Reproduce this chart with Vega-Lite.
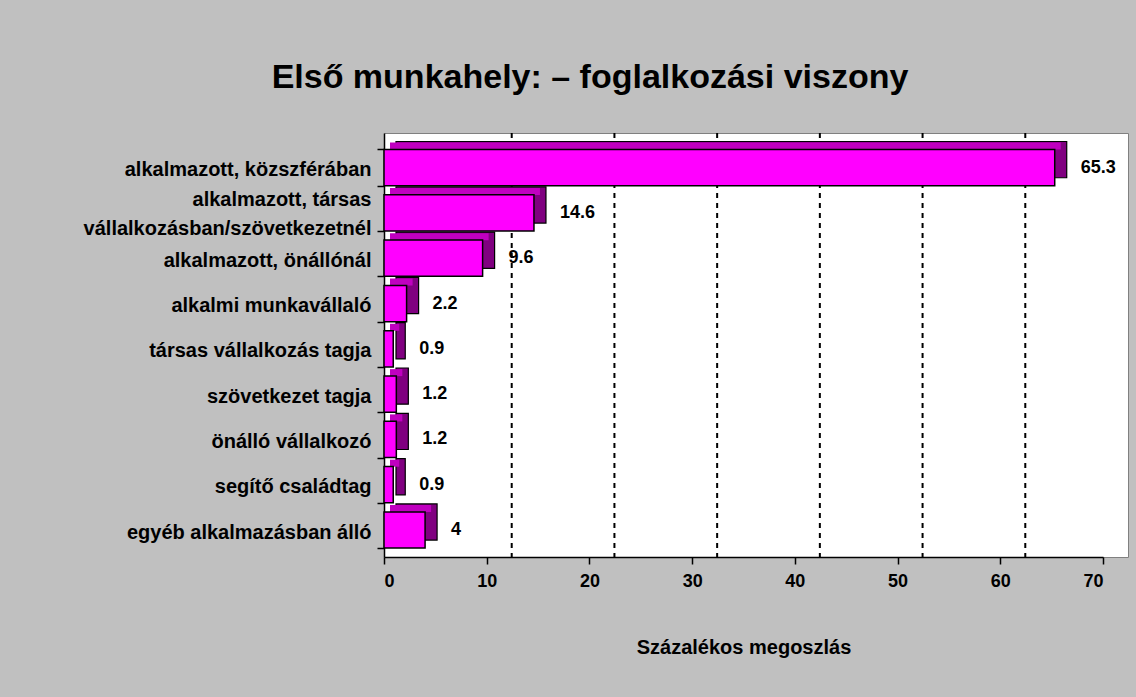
{
  "$schema": "https://vega.github.io/schema/vega-lite/v6.json",
  "autosize": {"type": "none"},
  "width": 744,
  "height": 424,
  "padding": {"left": 384, "top": 133, "right": 8, "bottom": 140},
  "background": "#C0C0C0",
  "title": {
    "text": "Első munkahely: – foglalkozási viszony",
    "font": "Liberation Sans",
    "fontSize": 34,
    "fontWeight": "bold",
    "color": "#000000",
    "anchor": "middle",
    "dx": -166,
    "offset": 28
  },
  "config": {
    "view": {"fill": "#FFFFFF", "stroke": "#808080", "strokeWidth": 1},
    "axis": {
      "labelFont": "Liberation Sans",
      "labelFontWeight": "bold",
      "labelColor": "#000000",
      "titleFont": "Liberation Sans",
      "titleFontWeight": "bold",
      "titleColor": "#000000",
      "domainColor": "#000000",
      "tickColor": "#000000",
      "domainWidth": 1.5,
      "tickWidth": 1.5
    }
  },
  "datasets": {
    "bars": [
      {"cat": "alkalmazott, közszférában", "value": 65.3},
      {"cat": "alkalmazott, társas|vállalkozásban/szövetkezetnél", "value": 14.6},
      {"cat": "alkalmazott, önállónál", "value": 9.6},
      {"cat": "alkalmi munkavállaló", "value": 2.2},
      {"cat": "társas vállalkozás tagja", "value": 0.9},
      {"cat": "szövetkezet tagja", "value": 1.2},
      {"cat": "önálló vállalkozó", "value": 1.2},
      {"cat": "segítő családtag", "value": 0.9},
      {"cat": "egyéb alkalmazásban álló", "value": 4}
    ],
    "grid": [
      {"value": 10}, {"value": 20}, {"value": 30}, {"value": 40}, {"value": 50}, {"value": 60}
    ]
  },
  "encoding": {
    "x": {
      "field": "value",
      "type": "quantitative",
      "scale": {"domain": [0, 70], "nice": false, "range": [0, 719]},
      "axis": {
        "title": "Százalékos megoszlás",
        "titleFontSize": 20,
        "titlePadding": 47,
        "labelFontSize": 18,
        "labelPadding": 8,
        "values": [0, 10, 20, 30, 40, 50, 60, 70],
        "tickSize": 7,
        "grid": false
      }
    }
  },
  "layer": [
    {
      "data": {"name": "grid"},
      "mark": {"type": "rule", "color": "#000000", "strokeWidth": 2, "strokeDash": [5, 5], "xOffset": 25}
    },
    {
      "data": {"name": "bars"},
      "encoding": {
        "y": {
          "field": "cat",
          "type": "nominal",
          "sort": null,
          "scale": {"paddingInner": 0.2, "paddingOuter": 0.28, "align": 0.65},
          "axis": {
            "title": null,
            "labelExpr": "split(datum.label, '|')",
            "labelFontSize": 20,
            "labelLineHeight": 29,
            "labelPadding": 6,
            "labelOffset": {"condition": {"test": "datum.value === 'alkalmazott, társas|vállalkozásban/szövetkezetnél'", "value": -13}, "value": 2},
            "tickSize": 7,
            "tickBand": "extent",
            "labelLimit": 400
          }
        }
      },
      "layer": [
        {
          "mark": {"type": "bar", "color": "#800080", "stroke": "#000000", "strokeWidth": 1.2, "xOffset": 12, "x2Offset": 12, "yOffset": -8, "y2Offset": -8}
        },
        {
          "mark": {"type": "bar", "color": "#C000C0", "height": 7, "yOffset": -21.5, "xOffset": 6, "x2Offset": 6}
        },
        {
          "mark": {"type": "bar", "color": "#FF00FF", "stroke": "#000000", "strokeWidth": 1.5}
        },
        {
          "mark": {"type": "text", "align": "left", "baseline": "middle", "dx": 26, "font": "Liberation Sans", "fontSize": 18, "fontWeight": "bold", "color": "#000000"},
          "encoding": {"text": {"field": "value", "type": "quantitative"}}
        }
      ]
    }
  ]
}
